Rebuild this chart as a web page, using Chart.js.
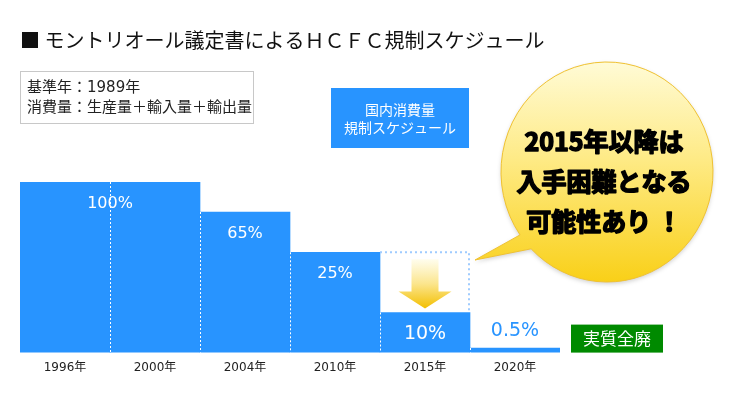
<!DOCTYPE html>
<html lang="ja">
<head>
<meta charset="utf-8">
<title>HCFC規制スケジュール</title>
<script src="https://cdn.jsdelivr.net/npm/chart.js@4.4.1/dist/chart.umd.min.js"></script>
<style>
  html, body { margin: 0; padding: 0; background: #fff; }
  #chart { display: block; }
</style>
</head>
<body>
<canvas id="chart" width="730" height="420"></canvas>
<script>
const years = ['1996年', '2000年', '2004年', '2010年', '2015年', '2020年'];
const levels = [100, 100, 65, 25, 10, 0.5];   // % of base-year consumption
const highlightYear = '2015年';
const titleText = '■ モントリオール議定書によるＨＣＦＣ規制スケジュール';
const noteLines = ['基準年：1989年', '消費量：生産量＋輸入量＋輸出量'];
const legendLines = ['国内消費量', '規制スケジュール'];
const calloutLines = ['2015年以降は', '入手困難となる', '可能性あり ！'];
const endLabel = '実質全廃';

const BLUE = '#2894ff';
const JP = '"Noto Sans CJK JP", "Noto Sans", sans-serif';
const NUM = '"DejaVu Sans", "Noto Sans CJK JP", sans-serif';

// the original is not to scale, small steps are stretched so they stay visible.
// piecewise linear axis through [value, fraction of height] stops
class StepScale extends Chart.LinearScale {
  _toFrac(v) {
    const s = this.options.stops;
    if (v <= s[0][0]) return s[0][1];
    for (let i = 1; i < s.length; i++) {
      if (v <= s[i][0]) {
        const [v0, f0] = s[i - 1], [v1, f1] = s[i];
        return f0 + (f1 - f0) * (v - v0) / (v1 - v0);
      }
    }
    return s[s.length - 1][1];
  }
  _fromFrac(f) {
    const s = this.options.stops;
    for (let i = 1; i < s.length; i++) {
      if (f <= s[i][1]) {
        const [v0, f0] = s[i - 1], [v1, f1] = s[i];
        return v0 + (v1 - v0) * (f - f0) / (f1 - f0);
      }
    }
    return s[s.length - 1][0];
  }
  getPixelForValue(v) {
    return v === null ? NaN : this.getPixelForDecimal(this._toFrac(v));
  }
  getValueForPixel(p) {
    return this._fromFrac(this.getDecimalForPixel(p));
  }
}
StepScale.id = 'step';
StepScale.defaults = {};
Chart.register(StepScale);

const decor = {
  id: 'decor',
  beforeDraw(chart) {
    const ctx = chart.ctx;
    ctx.save();
    ctx.fillStyle = '#fff';
    ctx.fillRect(0, 0, chart.width, chart.height);

    // title
    ctx.fillStyle = '#111';
    ctx.font = '20px ' + JP;
    ctx.textBaseline = 'middle';
    ctx.textAlign = 'left';
    ctx.fillText(titleText, 20, 40);

    // note box
    ctx.strokeStyle = '#c8c8c8';
    ctx.lineWidth = 1;
    ctx.strokeRect(20.5, 71.5, 233, 52);
    ctx.fillStyle = '#222';
    ctx.font = '15px ' + NUM;
    noteLines.forEach((t, i) => ctx.fillText(t, 27, 88 + i * 20));

    // legend box
    ctx.fillStyle = BLUE;
    ctx.fillRect(331, 88, 138, 60);
    ctx.fillStyle = '#fff';
    ctx.font = '14px ' + JP;
    ctx.textAlign = 'center';
    legendLines.forEach((t, i) => ctx.fillText(t, 400, 110 + i * 18));
    ctx.restore();
  },
  afterDatasetsDraw(chart) {
    const ctx = chart.ctx;
    const bars = chart.getDatasetMeta(0).data;
    const area = chart.chartArea;
    ctx.save();

    // dotted separators between neighbouring bars
    ctx.strokeStyle = '#fff';
    ctx.lineWidth = 1;
    ctx.setLineDash([2, 2]);
    for (let i = 1; i < bars.length; i++) {
      const x = Math.round((bars[i - 1].x + bars[i].x) / 2) + 0.5;
      const top = Math.max(bars[i - 1].y, bars[i].y);
      ctx.beginPath();
      ctx.moveTo(x, top);
      ctx.lineTo(x, area.bottom);
      ctx.stroke();
    }

    // highlighted drop: dotted outline of the previous level plus arrow
    const h = years.indexOf(highlightYear);
    if (h > 0) {
      const b = bars[h], prev = bars[h - 1];
      const left = b.x - b.width / 2, right = b.x + b.width / 2;
      ctx.strokeStyle = '#9fcbff';
      ctx.lineWidth = 2;
      ctx.setLineDash([2, 3]);
      ctx.beginPath();
      ctx.moveTo(left, prev.y);
      ctx.lineTo(right - 1, prev.y);
      ctx.lineTo(right - 1, b.y);
      ctx.stroke();
      ctx.setLineDash([]);

      const cx = b.x;
      const sTop = prev.y + 7, tip = b.y - 4, hTop = tip - 17;
      const g = ctx.createLinearGradient(0, sTop, 0, tip);
      g.addColorStop(0, 'rgba(255,253,235,0.9)');
      g.addColorStop(0.5, '#fbe58c');
      g.addColorStop(1, '#f3bf00');
      ctx.fillStyle = g;
      ctx.beginPath();
      ctx.moveTo(cx - 13.5, sTop);
      ctx.lineTo(cx + 13.5, sTop);
      ctx.lineTo(cx + 13.5, hTop);
      ctx.lineTo(cx + 26.5, hTop);
      ctx.lineTo(cx, tip);
      ctx.lineTo(cx - 26.5, hTop);
      ctx.lineTo(cx - 13.5, hTop);
      ctx.closePath();
      ctx.fill();
    }

    // value labels, one per run of equal values
    ctx.textAlign = 'center';
    ctx.textBaseline = 'middle';
    let i = 0;
    while (i < levels.length) {
      let j = i;
      while (j + 1 < levels.length && levels[j + 1] === levels[i]) j++;
      const x = (bars[i].x + bars[j].x) / 2;
      const top = bars[i].y;
      const tall = area.bottom - top > 30;
      ctx.font = (levels[i] <= 10 ? '19px ' : '16px ') + NUM;
      ctx.fillStyle = tall ? '#fff' : BLUE;
      ctx.fillText(levels[i] + '%', x, tall ? top + 22 : top - 17);
      i = j + 1;
    }

    // end label
    const last = bars[bars.length - 1];
    const ex = last.x + last.width / 2 + 11;
    ctx.fillStyle = '#008a00';
    ctx.fillRect(ex, area.bottom - 28, 92, 28);
    ctx.fillStyle = '#fff';
    ctx.font = '17px ' + JP;
    ctx.fillText(endLabel, ex + 46, area.bottom - 14);
    ctx.restore();
  },
  afterDraw(chart) {
    // callout bubble
    const ctx = chart.ctx;
    const cx = 607, cy = 172, rx = 106, ry = 110;
    const a0 = Math.atan2(68 / ry, -94 / rx);
    const a1 = Math.atan2(81 / ry, -80 / rx) + Math.PI * 2;
    ctx.save();
    ctx.beginPath();
    ctx.ellipse(cx, cy, rx, ry, 0, a0, a1);
    ctx.lineTo(475, 260);
    ctx.closePath();
    const g = ctx.createLinearGradient(0, cy - ry, 0, cy + ry);
    g.addColorStop(0, '#fffbd6');
    g.addColorStop(0.45, '#feea84');
    g.addColorStop(1, '#f9d018');
    ctx.shadowColor = 'rgba(0,0,0,0.18)';
    ctx.shadowBlur = 4;
    ctx.shadowOffsetY = 2;
    ctx.fillStyle = g;
    ctx.fill();
    ctx.shadowColor = 'transparent';
    ctx.strokeStyle = '#f0c232';
    ctx.lineWidth = 1;
    ctx.stroke();

    ctx.fillStyle = '#000';
    ctx.strokeStyle = '#000';
    ctx.lineWidth = 1.6;
    ctx.lineJoin = 'round';
    ctx.font = 'bold 25px ' + JP;
    ctx.textAlign = 'center';
    ctx.textBaseline = 'middle';
    calloutLines.forEach((t, i) => {
      ctx.fillText(t, 604, 141 + i * 40);
      ctx.strokeText(t, 604, 141 + i * 40);
    });
    ctx.restore();
  }
};

new Chart(document.getElementById('chart'), {
  type: 'bar',
  data: {
    labels: years,
    datasets: [{
      data: levels,
      backgroundColor: BLUE,
      borderWidth: 0,
      barPercentage: 1,
      categoryPercentage: 1
    }]
  },
  options: {
    responsive: false,
    animation: false,
    events: [],
    layout: { padding: { top: 182, left: 20, right: 170, bottom: 37 } },
    plugins: { legend: { display: false }, tooltip: { enabled: false }, title: { display: false } },
    scales: {
      x: {
        grid: { display: false, drawTicks: false },
        border: { display: false },
        ticks: { color: '#222', padding: 8, font: { family: NUM, size: 12 } }
      },
      y: {
        type: 'step',
        display: false,
        min: 0,
        max: 100,
        stops: [[0, 0], [0.5, 0.027], [10, 0.235], [25, 0.588], [65, 0.824], [100, 1]]
      }
    }
  },
  plugins: [decor]
});
</script>
</body>
</html>
